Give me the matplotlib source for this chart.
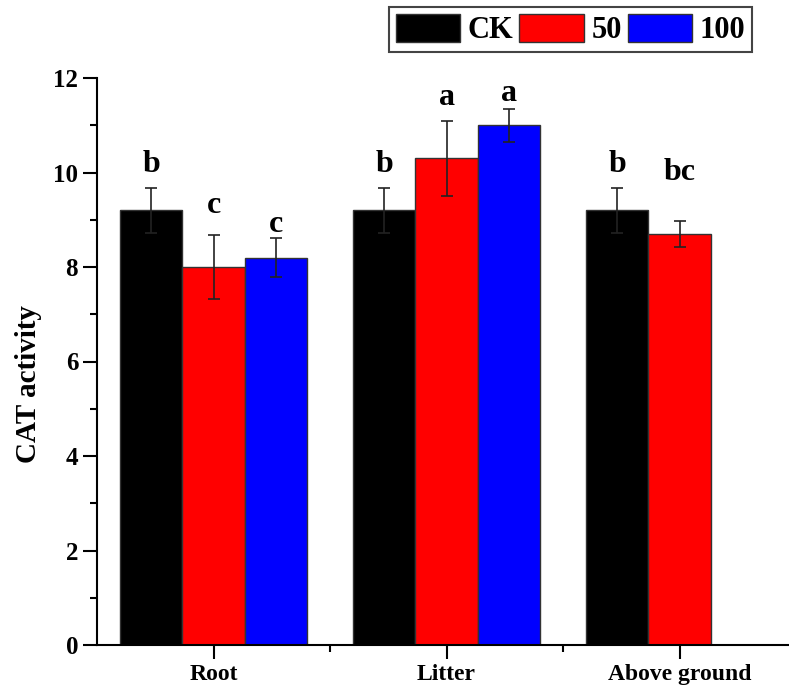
import numpy as np
import matplotlib.pyplot as plt
from matplotlib.patches import Patch
from matplotlib.ticker import MultipleLocator, FixedLocator

plt.rcParams['font.family'] = ['Liberation Serif', 'DejaVu Serif']
plt.rcParams['font.weight'] = 'bold'

categories = ['Root', 'Litter', 'Above ground']
series_names = ['CK', '50', '100']
colors = ['#000000', '#ff0000', '#0000ff']

ck = [9.2, 9.2, 9.2]
ck_err = [0.47, 0.47, 0.47]
t50 = [8.0, 10.3, 8.7]
t50_err = [0.68, 0.80, 0.27]
t100 = [8.2, 11.0, np.nan]
t100_err = [0.42, 0.35, np.nan]

# significance letters and the height they sit at
letters_ck = ['b', 'b', 'b']
letters_50 = ['c', 'a', 'bc']
letters_100 = ['c', 'a', '']
letter_y_ck = [10.16, 10.16, 10.16]
letter_y_50 = [9.31, 11.58, 10.01]
letter_y_100 = [8.89, 11.68, np.nan]

fig = plt.figure(figsize=(7.89, 6.88), dpi=100)
ax = fig.add_axes([97 / 789, 1 - 645 / 688, 699 / 789, 567 / 688])

x = np.arange(1, len(categories) + 1)
w = 0.267
groups = [(ck, ck_err, letters_ck, letter_y_ck),
          (t50, t50_err, letters_50, letter_y_50),
          (t100, t100_err, letters_100, letter_y_100)]

for i, (vals, errs, lets, ly) in enumerate(groups):
    vals = np.asarray(vals, float)
    errs = np.asarray(errs, float)
    ok = ~np.isnan(vals)
    xs = x[ok] + (i - 1) * w
    ax.bar(xs, vals[ok], width=w, color=colors[i], edgecolor='#333333',
           linewidth=1.0, zorder=2)
    ax.errorbar(xs, vals[ok], yerr=errs[ok], fmt='none', ecolor='#222222',
                elinewidth=1.2, capsize=4.5, capthick=1.2, zorder=3)
    for xx, lt, yy in zip(x + (i - 1) * w, lets, ly):
        if lt:
            ax.text(xx, yy, lt, ha='center', va='center', fontsize=23,
                    fontweight='bold')

ax.set_xlim(0.5, 3.5)
ax.set_ylim(0, 12)
ax.set_xticks(x)
ax.set_xticklabels(categories, fontsize=17, fontweight='bold')
ax.xaxis.set_minor_locator(FixedLocator([1.5, 2.5]))
ax.yaxis.set_major_locator(MultipleLocator(2))
ax.yaxis.set_minor_locator(MultipleLocator(1))
ax.tick_params(axis='both', which='major', direction='out', length=10,
               width=1.5, labelsize=18)
ax.tick_params(axis='both', which='minor', direction='out', length=5,
               width=1.5)
ax.tick_params(axis='x', which='major', pad=4, labelsize=17)
for lab in ax.get_yticklabels():
    lab.set_fontweight('bold')
for side in ['top', 'right']:
    ax.spines[side].set_visible(False)
for side in ['left', 'bottom']:
    ax.spines[side].set_linewidth(1.5)

ax.set_ylabel('CAT activity', fontsize=21, fontweight='bold')
ax.yaxis.set_label_coords(-0.078, 0.46)

handles = [Patch(facecolor=c, edgecolor='#333333', linewidth=1.0)
           for c in colors]
leg = fig.legend(handles, series_names, loc='upper left',
                 bbox_to_anchor=(389 / 789, 1 - 7 / 688), ncol=3,
                 handlelength=2.1, handleheight=1.05,
                 handletextpad=0.25, columnspacing=0.2, borderpad=0.22,
                 borderaxespad=0, fancybox=False, framealpha=1,
                 prop={'weight': 'bold', 'size': 22})
leg.get_frame().set_edgecolor('#444444')
leg.get_frame().set_linewidth(1.5)

fig.savefig('out.png', dpi=100)
